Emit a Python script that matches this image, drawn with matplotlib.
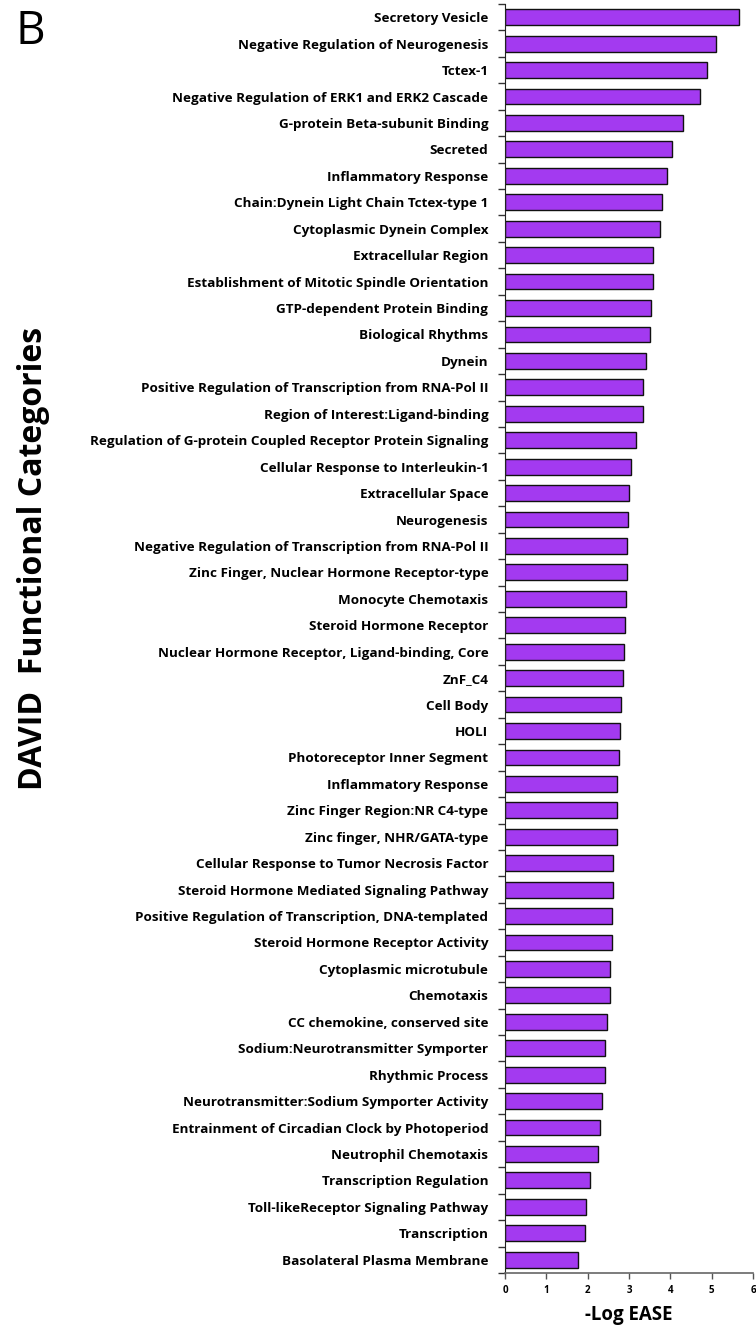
import numpy as np
import matplotlib
matplotlib.use('Agg')
import matplotlib.pyplot as plt

# categories top to bottom
categories = [
    'Secretory Vesicle',
    'Negative Regulation of Neurogenesis',
    'Tctex-1',
    'Negative Regulation of ERK1 and ERK2 Cascade',
    'G-protein Beta-subunit Binding',
    'Secreted',
    'Inflammatory Response',
    'Chain:Dynein Light Chain Tctex-type 1',
    'Cytoplasmic Dynein Complex',
    'Extracellular Region',
    'Establishment of Mitotic Spindle Orientation',
    'GTP-dependent Protein Binding',
    'Biological Rhythms',
    'Dynein',
    'Positive Regulation of Transcription from RNA-Pol II',
    'Region of Interest:Ligand-binding',
    'Regulation of G-protein Coupled Receptor Protein Signaling',
    'Cellular Response to Interleukin-1',
    'Extracellular Space',
    'Neurogenesis',
    'Negative Regulation of Transcription from RNA-Pol II',
    'Zinc Finger, Nuclear Hormone Receptor-type',
    'Monocyte Chemotaxis',
    'Steroid Hormone Receptor',
    'Nuclear Hormone Receptor, Ligand-binding, Core',
    'ZnF_C4',
    'Cell Body',
    'HOLI',
    'Photoreceptor Inner Segment',
    'Inflammatory Response',
    'Zinc Finger Region:NR C4-type',
    'Zinc finger, NHR/GATA-type',
    'Cellular Response to Tumor Necrosis Factor',
    'Steroid Hormone Mediated Signaling Pathway',
    'Positive Regulation of Transcription, DNA-templated',
    'Steroid Hormone Receptor Activity',
    'Cytoplasmic microtubule',
    'Chemotaxis',
    'CC chemokine, conserved site',
    'Sodium:Neurotransmitter Symporter',
    'Rhythmic Process',
    'Neurotransmitter:Sodium Symporter Activity',
    'Entrainment of Circadian Clock by Photoperiod',
    'Neutrophil Chemotaxis',
    'Transcription Regulation',
    'Toll-likeReceptor Signaling Pathway',
    'Transcription',
    'Basolateral Plasma Membrane',
]

log_ease = [
    5.66, 5.10, 4.89, 4.71, 4.31, 4.04, 3.92, 3.80, 3.75, 3.59,
    3.59, 3.54, 3.51, 3.40, 3.35, 3.35, 3.16, 3.04, 3.00, 2.98,
    2.95, 2.95, 2.92, 2.91, 2.88, 2.85, 2.81, 2.79, 2.76, 2.72,
    2.72, 2.70, 2.62, 2.62, 2.60, 2.59, 2.55, 2.53, 2.46, 2.42,
    2.41, 2.34, 2.31, 2.24, 2.05, 1.95, 1.94, 1.76,
]

x_ticks = [0, 1, 2, 3, 4, 5, 6]

plt.rcParams['font.family'] = ['Open Sans', 'DejaVu Sans']

fig = plt.figure(figsize=(7.56, 13.26), dpi=100)
ax = fig.add_axes([0.668, 0.040, 0.328, 0.957])

ypos = np.arange(len(categories))
ax.barh(ypos, log_ease, height=0.6, color='#A33AF0',
        edgecolor='#111111', linewidth=1.0)

ax.set_ylim(len(categories) - 0.5, -0.5)
ax.set_xlim(0, 6)

ax.set_yticks(ypos)
ax.set_yticklabels(categories, fontsize=9.7, fontweight='bold')
ax.tick_params(axis='y', which='major', length=0, pad=12)
ax.set_yticks(np.arange(len(categories) + 1) - 0.5, minor=True)
ax.tick_params(axis='y', which='minor', length=5, width=1, color='#333333')

ax.set_xticks(x_ticks)
ax.set_xticklabels([str(t) for t in x_ticks], fontsize=7, fontweight='bold')
ax.tick_params(axis='x', length=4, width=1, color='#555555', pad=5)

for s in ['top', 'right']:
    ax.spines[s].set_visible(False)
ax.spines['left'].set_color('#222222')
ax.spines['bottom'].set_color('#666666')
ax.spines['bottom'].set_linewidth(1.2)

ax.set_xlabel('-Log EASE', fontsize=13.5, fontweight='bold', labelpad=6)

fig.text(0.044, 0.579, 'DAVID  Functional Categories', rotation=90,
         fontsize=23, fontweight='bold', ha='center', va='center')
fig.text(0.020, 0.993, 'B', fontsize=33, ha='left', va='top')

fig.savefig('out.png', dpi=100)
